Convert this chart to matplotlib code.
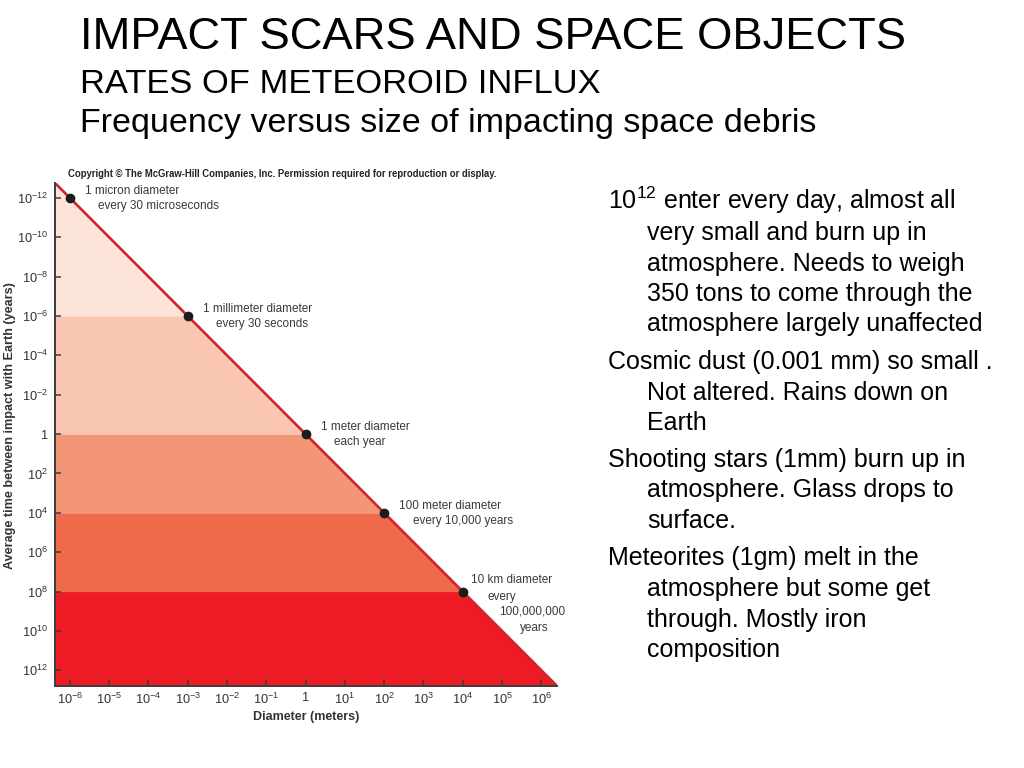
import matplotlib
matplotlib.use("Agg")
import matplotlib.pyplot as plt
import numpy as np

plt.rcParams['font.family'] = ['Liberation Sans', 'DejaVu Sans']
plt.rcParams['mathtext.fontset'] = 'custom'
plt.rcParams['mathtext.rm'] = 'Liberation Sans'
plt.rcParams['mathtext.it'] = 'Liberation Sans:italic'
plt.rcParams['mathtext.bf'] = 'Liberation Sans:bold'

# ---- data ----
diam_pts = [1e-6, 1e-3, 1.0, 1e2, 1e4]          # meters
time_pts = [1e-12, 1e-6, 1.0, 1e4, 1e8]          # years between impacts
pt_label1 = ["1 micron diameter", "1 millimeter diameter", "1 meter diameter",
             "100 meter diameter", "10 km diameter"]
pt_label2 = ["every 30 microseconds", "every 30 seconds", "each year",
             "every 10,000 years", ""]
line_diam = [10**-6.38, 10**6.40]
line_time = [10**-12.76, 10**12.80]
band_edges = [10**-12.76, 1e-6, 1.0, 1e4, 1e8, 10**12.80]
band_colors = ['#fce4d8', '#f9c7b1', '#f39577', '#ee6a4b', '#ed1c24']
xtick_vals = [10.0**k for k in range(-6, 7)]
xtick_labels = ['1' if k == 0 else r'$10^{%d}$' % k for k in range(-6, 7)]
ytick_vals = [10.0**k for k in range(-12, 13, 2)]
ytick_labels = ['1' if k == 0 else r'$10^{%d}$' % k for k in range(-12, 13, 2)]

fig = plt.figure(figsize=(10.24, 7.68), dpi=100)
ax = fig.add_axes([55/1024, 1-686/768, (557-55)/1024, (686-183)/768])
ax.set_xscale('log')
ax.set_yscale('log')
ax.set_xlim(line_diam[0], line_diam[1])
ax.set_ylim(line_time[1], line_time[0])   # inverted: large times at bottom

# slope of the line in log-log space
lx0, lx1 = np.log10(line_diam)
ly0, ly1 = np.log10(line_time)
def x_on_line(t):
    return 10**(lx0 + (np.log10(t) - ly0) * (lx1 - lx0) / (ly1 - ly0))

for lo, hi, c in zip(band_edges[:-1], band_edges[1:], band_colors):
    ys = [lo, hi]
    ax.fill_betweenx(ys, [line_diam[0]]*2, [x_on_line(lo), x_on_line(hi)],
                     color=c, linewidth=0, zorder=1)

ax.plot(line_diam, line_time, color='#d2232a', lw=1.9, zorder=3,
        solid_capstyle='butt')
ax.plot(diam_pts, time_pts, 'o', color='#1c1c1c', ms=6, zorder=4)

ann_color = '#3a3a3a'
for i, (d, t) in enumerate(zip(diam_pts, time_pts)):
    if i < 4:
        ax.annotate(pt_label1[i], (d, t), xytext=(11, 5), textcoords='offset points',
                    fontsize=8.5, color=ann_color, va='center', ha='left')
        ax.annotate(pt_label2[i], (d, t), xytext=(20.5, -6), textcoords='offset points',
                    fontsize=8.5, color=ann_color, va='center', ha='left')
    else:
        ax.annotate(pt_label1[i], (d, t), xytext=(6, 8), textcoords='offset points',
                    fontsize=8.5, color=ann_color, va='center', ha='left')
        for txt, dx, dy in [("every", 18, -3.6), ("100,000,000", 26, -14.5), ("years", 41, -26)]:
            ax.annotate(txt, (d, t), xytext=(dx, dy), textcoords='offset points',
                        fontsize=8.5, color=ann_color, va='center', ha='left')

for s in ['top', 'right']:
    ax.spines[s].set_visible(False)
for s in ['left', 'bottom']:
    ax.spines[s].set_color('#3c3c3c')
    ax.spines[s].set_linewidth(1.4)
    ax.spines[s].set_zorder(5)

ax.set_xticks(xtick_vals)
ax.set_xticklabels(xtick_labels)
ax.set_yticks(ytick_vals)
ax.set_yticklabels(ytick_labels)
ax.minorticks_off()
ax.tick_params(axis='both', direction='in', length=4, width=1.1, color='#3c3c3c',
               labelsize=9.2, labelcolor='#333333')
ax.tick_params(axis='x', pad=4)
ax.tick_params(axis='y', pad=5)

fig.text(306/1024, 1-717/768, "Diameter (meters)", fontsize=9, fontweight='bold',
         color='#333333', ha='center', va='center')
fig.text(10/1024, 1-426/768, "Average time between impact with Earth (years)",
         fontsize=9.1, fontweight='bold', color='#333333', rotation=90,
         ha='center', va='center')
fig.text(68/1024, 1-177/768,
         "Copyright \u00a9 The McGraw-Hill Companies, Inc. Permission required for reproduction or display.",
         fontsize=6.85, fontweight='bold', color='#222222', ha='left', va='baseline')

# titles
fig.text(80/1024, 1-49/768, "IMPACT SCARS AND SPACE OBJECTS", fontsize=32.7,
         color='black', ha='left', va='baseline')
fig.text(80/1024, 1-93/768, "RATES OF METEOROID INFLUX", fontsize=24.8,
         color='black', ha='left', va='baseline')
fig.text(80/1024, 1-132/768, "Frequency versus size of impacting space debris",
         fontsize=24.5, color='black', ha='left', va='baseline')

# right-hand notes
notes = [
    (608, 209, r"10$^{\mathregular{12}}$ enter every day, almost all"),
    (647, 240, "very small and burn up in"),
    (647, 271, "atmosphere. Needs to weigh"),
    (647, 301, "350 tons to come through the"),
    (647, 331, "atmosphere largely unaffected"),
    (608, 369, "Cosmic dust (0.001 mm) so small ."),
    (647, 400, "Not altered. Rains down on"),
    (647, 430, "Earth"),
    (608, 467, "Shooting stars (1mm) burn up in"),
    (647, 497, "atmosphere. Glass drops to"),
    (647, 528, "surface."),
    (608, 565, "Meteorites (1gm) melt in the"),
    (647, 596, "atmosphere but some get"),
    (647, 627, "through. Mostly iron"),
    (647, 657, "composition"),
]
for x, y, s in notes:
    fig.text(x/1024, 1-y/768, s, fontsize=18, color='black', ha='left', va='baseline')

fig.savefig("out.png", dpi=100)
